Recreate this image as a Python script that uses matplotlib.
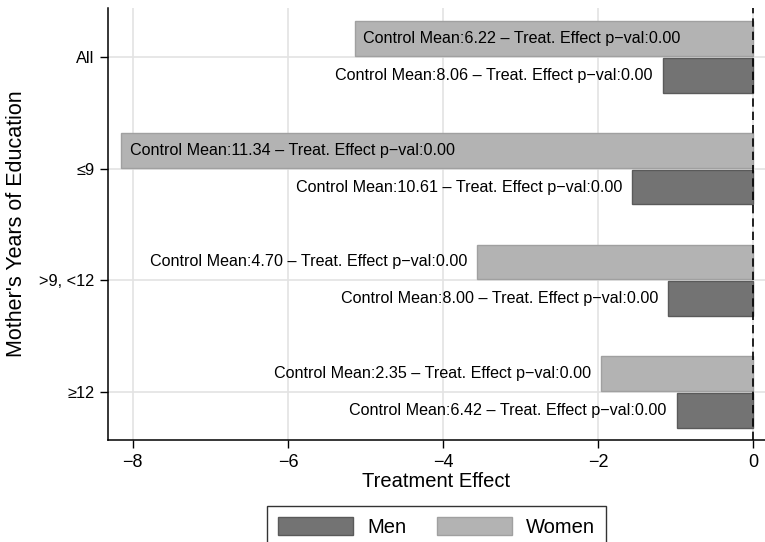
import matplotlib
matplotlib.use("Agg")
import matplotlib.pyplot as plt
from matplotlib.patches import Patch

plt.rcParams['font.family'] = ['Liberation Sans', 'DejaVu Sans']

categories = ["All", "≤9", ">9, <12", "≥12"]
men_effect = [-1.17, -1.56, -1.10, -0.99]
women_effect = [-5.14, -8.15, -3.56, -1.97]
men_control_mean = [8.06, 10.61, 8.00, 6.42]
women_control_mean = [6.22, 11.34, 4.70, 2.35]
men_pval = [0.00, 0.00, 0.00, 0.00]
women_pval = [0.00, 0.00, 0.00, 0.00]
xticks = [-8, -6, -4, -2, 0]

men_color = "#737373"
men_edge = "#5a5a5a"
women_color = "#b3b3b3"
women_edge = "#a0a0a0"

fig = plt.figure(figsize=(7.65, 5.42), dpi=100)
ax = fig.add_axes([108/765, 102/542, 657/765, 432/542])

n = len(categories)
ypos = [n - 1 - i for i in range(n)]
off = 0.165
h = 0.31

ax.barh([y + off for y in ypos], women_effect, height=h, color=women_color,
        edgecolor=women_edge, linewidth=1, zorder=3)
ax.barh([y - off for y in ypos], men_effect, height=h, color=men_color,
        edgecolor=men_edge, linewidth=1, zorder=3)

def label(y, val, cm, pv):
    txt = f"Control Mean:{cm:.2f} – Treat. Effect p−val:{pv:.2f}"
    if val < -5:
        ax.annotate(txt, (val, y), xytext=(6, 0), textcoords="offset points",
                    ha="left", va="center", fontsize=11.6, zorder=4)
    else:
        ax.annotate(txt, (val, y), xytext=(-7, 0), textcoords="offset points",
                    ha="right", va="center", fontsize=11.6, zorder=4)

for i in range(n):
    label(ypos[i] + off, women_effect[i], women_control_mean[i], women_pval[i])
    label(ypos[i] - off, men_effect[i], men_control_mean[i], men_pval[i])

ax.axvline(0, color="black", linestyle=(0, (5, 3)), linewidth=1.2, zorder=5)

ax.set_xlim(-8.32, 0.15)
ax.set_ylim(-0.43, n - 1 + 0.44)
ax.set_yticks(ypos)
ax.set_yticklabels(categories, fontsize=11.8)
ax.set_xticks(xticks)
ax.set_xticklabels([f"{t}".replace("-", "−") for t in xticks], fontsize=13)
ax.tick_params(axis="both", direction="out", length=6, width=1, color="black")
ax.tick_params(axis="x", pad=4)

ax.grid(True, color="#e3e3e3", linewidth=1.2, zorder=0)
ax.set_axisbelow(True)
for s in ["top", "right"]:
    ax.spines[s].set_visible(False)
for s in ["left", "bottom"]:
    ax.spines[s].set_linewidth(1.1)

ax.set_xlabel("Treatment Effect", fontsize=14.5, labelpad=1)
ax.set_ylabel("Mother's Years of Education", fontsize=15.5, labelpad=9)

handles = [Patch(facecolor=men_color, edgecolor=men_edge, label="Men"),
           Patch(facecolor=women_color, edgecolor=women_edge, label="Women")]
fig.legend(handles=handles, loc="upper center", bbox_to_anchor=(436.5/765, 1 - 506/542),
           ncol=2, fontsize=14.5, frameon=True, fancybox=False, edgecolor="black",
           handlelength=3.75, handleheight=1.0, columnspacing=1.5, handletextpad=0.7,
           borderpad=0.55, borderaxespad=0)

fig.savefig("out.png", dpi=100)
